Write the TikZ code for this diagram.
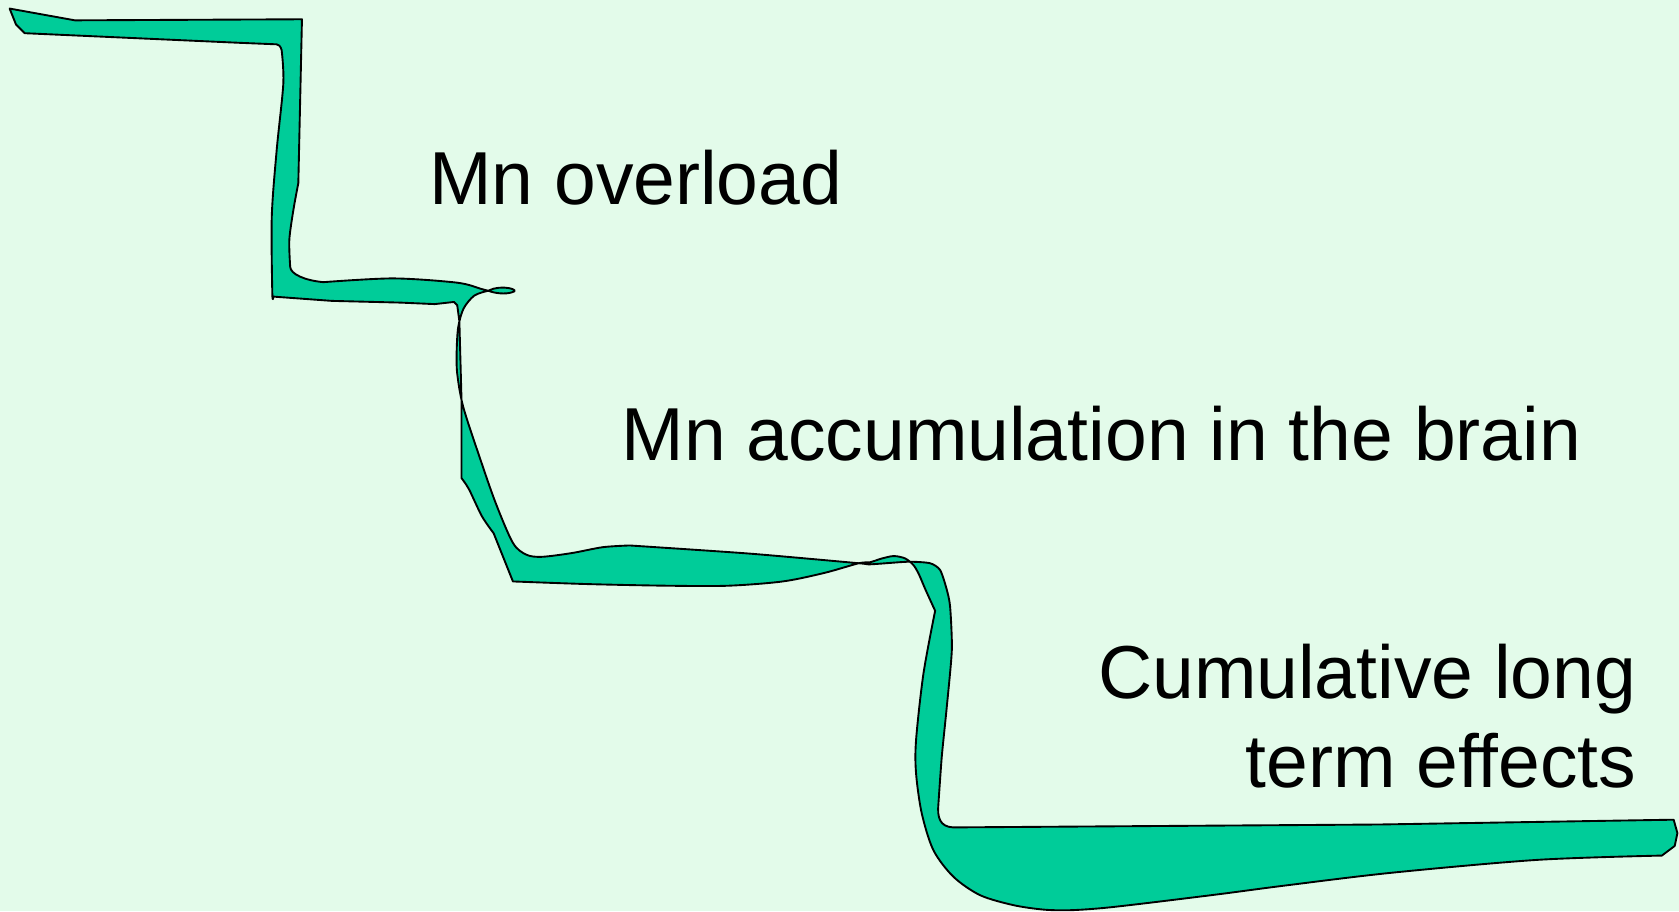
\documentclass[tikz,border=0pt]{standalone}
\usepackage{fontspec}
\setmainfont{Liberation Sans}
\usepackage{xcolor}
\usetikzlibrary{positioning, calc}

\definecolor{slidebg}{RGB}{227,251,234}
\definecolor{bandgreen}{RGB}{0,204,153}

\begin{document}
\begin{tikzpicture}[
    x=0.02cm, y=-0.02cm, % pixel-like units, y pointing down
    line width=1pt, % outline of the band
    band/.style={fill=bandgreen, draw=black, line join=round},
    caption/.style={font=\fontsize{39.9}{47.9}\selectfont, inner sep=0pt}
]

% Background
\fill[slidebg] (0,0) rectangle (1568,851);
\useasboundingbox (0,0) rectangle (1568,851);

% Staircase band
\filldraw[band] (9,8) -- (70,19) -- (282,18) -- (278.6,171)
    -- plot[smooth] coordinates {(278.6,171) (274,196) (270.2,224) (271,249)}
    .. controls (271,256) and (285,262) .. (302,263.5)
    -- plot[smooth] coordinates {(302,263.5) (367,260) (427,264) (450,270) (456,271.5)}
    .. controls (468,265) and (488,271) .. (478,273)
    .. controls (472,275) and (462,274) .. (456,271.5)
    -- plot[smooth] coordinates {(456,271.5) (443,276) (433,288) (428,305) (426.5,327) (427,349)
        (432.6,380) (448.6,429) (463,470) (479,507) (491.5,518) (506,520) (534,516.5) (563,511) (588,509.4)}
    -- plot[smooth, tension=0.4] coordinates {(588,509.4) (700,517) (802,526) (813,527) (848,524.6)
        (868.6,526) (878,532.4) (884,550) (887.3,566.6) (888.9,607) (884.2,660) (879.5,706.7) (876.4,750.3)}
    .. controls (875,764) and (878,772) .. (890,772.7)
    -- (1287,770) -- (1563,765.5) -- (1566.5,778) -- (1564,790) -- (1552,799)
    -- plot[smooth] coordinates {(1552,799) (1436,803) (1300,815) (1200,827) (1139,835) (1070,843.5)
        (1030,848) (1000,850) (975,849.5) (946.4,845.3) (915.3,836) (890.4,818.8) (871.7,794)
        (860.8,759.6) (855.5,722.3) (855.5,691) (862.4,629) (873.3,570.4)}
    -- plot[smooth] coordinates {(873.3,570.4) (864,550) (858,536) (853,527.7) (845.3,521.5) (834.4,519.3)
        (822,522) (813,525) (802,526) (770,535) (731,543) (680,547) (624,547) (550,545.5) (479,543)}
    -- (461,498)
    -- plot[smooth] coordinates {(461,498) (450,482) (438,457) (431,446.5)}
    -- (431,373.5) -- (429,300) -- (427,285) -- (424,282) -- (406,284) -- (374,282.6)
    -- (310,281) -- (255.3,277)
    -- plot[smooth] coordinates {(255.3,277) (254.3,274) (253.8,202.4) (258.4,140) (264.6,77.8) (263,46.7)}
    .. controls (262,43) and (260,41.4) .. (258.4,41.4)
    -- (224,40) -- (23,31) -- (15,23) -- cycle;

% Labels
\node[caption, anchor=base west] (overload) at (400,191) {Mn overload};
\node[caption, anchor=base west] (accum) at (579.5,430) {Mn accumulation in the brain};
\node[caption, anchor=base east] (cumul) at (1529,652) {Cumulative long};
\node[caption, anchor=base east] (effects) at ($(cumul.base east)+(0,83)$) {term effects};

\end{tikzpicture}
\end{document}
